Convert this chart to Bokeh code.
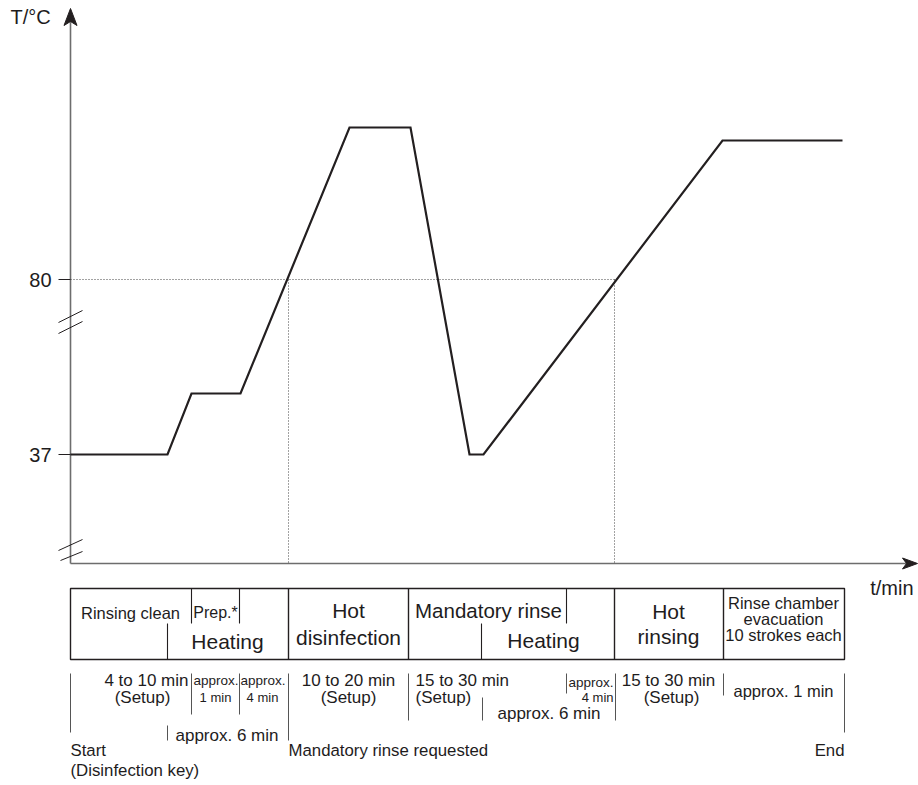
from bokeh.plotting import figure
from bokeh.embed import file_html
from bokeh.resources import INLINE
from bokeh.core.properties import value

# ---------------- data (schematic diagram coordinates) ----------------
# temperature profile: time position / level position
profile_t = [70, 167, 191, 240, 349, 410, 469, 483, 722, 842]
profile_T = [454, 454, 393, 393, 127, 127, 454, 454, 140, 140]

tick_labels = ["80", "37"]
tick_levels = [279, 454]

# phase boundaries (time positions)
phase_bounds = [288, 408, 614, 723]

phase_names = ["Rinsing clean", "Prep.*", "Heating", "Hot", "disinfection",
               "Mandatory rinse", "Heating", "Hot", "rinsing",
               "Rinse chamber", "evacuation", "10 strokes each"]

duration_texts = ["4 to 10 min", "(Setup)", "approx.", "1 min", "approx.", "4 min",
                  "approx. 6 min", "10 to 20 min", "(Setup)", "15 to 30 min", "(Setup)",
                  "approx. 6 min", "approx.", "4 min", "15 to 30 min", "(Setup)",
                  "approx. 1 min"]

event_texts = ["Start", "(Disinfection key)", "Mandatory rinse requested", "End"]

FONT = value("Liberation Sans")
TXT = "#1e1c1d"

p = figure(width=918, height=785, x_range=(0, 918), y_range=(785, 0),
           output_backend="svg", toolbar_location=None, min_border=0)
p.axis.visible = False
p.grid.visible = False
p.outline_line_color = None
p.background_fill_color = "white"

# ---------------- axes ----------------
p.segment(x0=[70], y0=[563], x1=[70], y1=[20], line_color="#6d6d6d", line_width=1.6)
p.segment(x0=[70], y0=[563], x1=[906], y1=[563], line_color="#6d6d6d", line_width=1.6)
p.patch(x=[70, 63.5, 70, 76.5], y=[8, 25, 21, 25], fill_color="#231f20", line_color="#231f20")
p.patch(x=[917, 902, 906, 902], y=[563, 557.5, 563, 568.5], fill_color="#231f20", line_color="#231f20")

# ticks
p.segment(x0=[58, 58], y0=tick_levels, x1=[70, 70], y1=tick_levels, line_color="#231f20", line_width=1)
p.text(x=[51, 51], y=tick_levels, text=tick_labels, text_align="right", text_baseline="middle",
       text_font=FONT, text_font_size="20px", text_color=TXT)

# axis break marks
p.segment(x0=[58, 58, 58, 60], y0=[322, 333, 550, 560], x1=[82, 82, 82, 82], y1=[310, 321, 539, 551],
          line_color="#231f20", line_width=1)

# axis titles
p.text(x=[10], y=[16], text=["T/°C"], text_align="left", text_baseline="middle",
       text_font=FONT, text_font_size="20px", text_color=TXT)
p.text(x=[913], y=[587], text=["t/min"], text_align="right", text_baseline="middle",
       text_font=FONT, text_font_size="20px", text_color=TXT)

# dotted guide lines
p.segment(x0=[70, phase_bounds[0], phase_bounds[2]], y0=[tick_levels[0]] * 3,
          x1=[phase_bounds[2], phase_bounds[0], phase_bounds[2]], y1=[tick_levels[0], 563, 563],
          line_color="#444444", line_width=1, line_dash="1 2")

# temperature curve
p.line(x=profile_t, y=profile_T, line_color="#231f20", line_width=2.2, line_join="miter")

# ---------------- phase table ----------------
p.quad(left=[70], right=[844], top=[588], bottom=[659], fill_alpha=0,
       line_color="#231f20", line_width=1.4)
p.segment(x0=phase_bounds, y0=[588] * 4, x1=phase_bounds, y1=[659] * 4,
          line_color="#231f20", line_width=1.4)
p.segment(x0=[191, 239, 566, 167, 481], y0=[588, 588, 588, 623, 623],
          x1=[191, 239, 566, 167, 481], y1=[623, 623, 623, 659, 659],
          line_color="#231f20", line_width=1.1)

name_x = [130, 215, 227, 348, 348, 488, 543, 668, 668, 783, 783, 783]
name_y = [612, 612, 641, 610, 637, 610, 640, 611, 636, 602, 618, 634]
name_size = ["16.5px", "16px", "21px", "21px", "21px", "20.5px", "21px", "21px", "21px",
             "16.5px", "16.5px", "16.5px"]
for t, x, y, s in zip(phase_names, name_x, name_y, name_size):
    p.text(x=[x], y=[y], text=[t], text_align="center", text_baseline="middle",
           text_font=FONT, text_font_size=s, text_color=TXT)

# ---------------- durations ----------------
p.segment(x0=[70, 191, 239, 288, 167, 408, 482, 566, 615, 723, 844],
          y0=[673, 673, 673, 673, 725, 673, 697, 673, 673, 673, 673],
          x1=[70, 191, 239, 288, 167, 408, 482, 566, 615, 723, 844],
          y1=[732, 714, 714, 740, 740, 720, 720, 693, 720, 695, 732],
          line_color="#555555", line_width=1)

dur_x = [188, 142, 193, 215, 240, 262, 175, 348, 348, 415, 415, 497, 568, 613, 668, 671, 783]
dur_y = [680, 697, 680, 697, 680, 697, 735, 680, 697, 680, 697, 713, 682, 697, 680, 697, 690]
dur_align = ["right", "center", "left", "center", "left", "center", "left", "center", "center",
             "left", "left", "left", "left", "right", "center", "center", "center"]
dur_size = ["17px", "17px", "13.5px", "13px", "13.5px", "13px", "17px", "17px", "17px",
            "17px", "17px", "17px", "13.5px", "13px", "17px", "17px", "16.5px"]
for t, x, y, a, s in zip(duration_texts, dur_x, dur_y, dur_align, dur_size):
    p.text(x=[x], y=[y], text=[t], text_align=a, text_baseline="middle",
           text_font=FONT, text_font_size=s, text_color=TXT)

# ---------------- events ----------------
ev_x = [70, 70, 288, 844]
ev_y = [750, 770, 750, 750]
ev_align = ["left", "left", "left", "right"]
for t, x, y, a in zip(event_texts, ev_x, ev_y, ev_align):
    p.text(x=[x], y=[y], text=[t], text_align=a, text_baseline="middle",
           text_font=FONT, text_font_size="16.8px", text_color=TXT)

open("out.html", "w").write(file_html(p, INLINE))
